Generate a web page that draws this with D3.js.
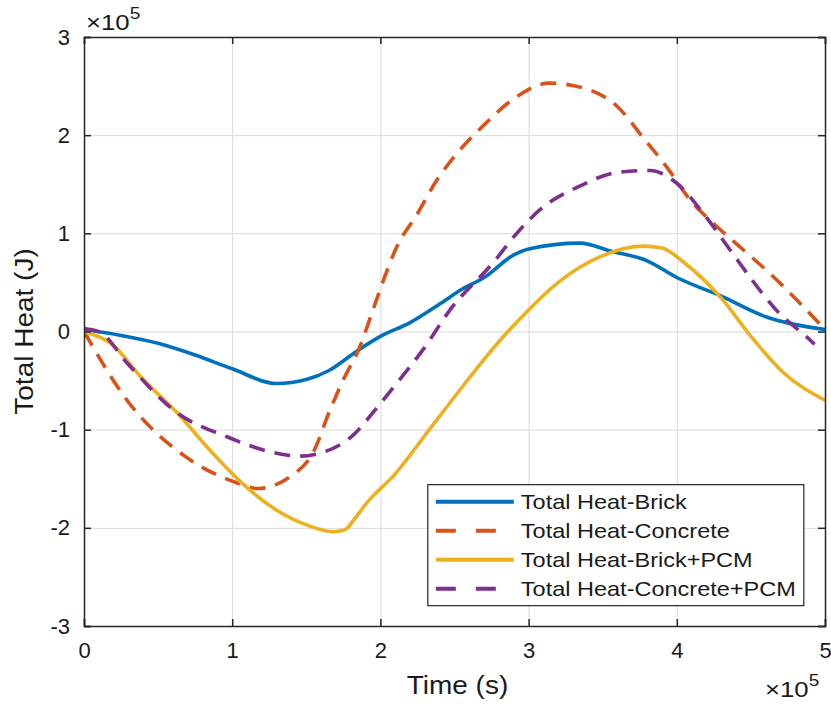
<!DOCTYPE html>
<html>
<head>
<meta charset="utf-8">
<script src="https://d3js.org/d3.v7.min.js"></script>
<style>
  body { margin: 0; background: #fff; }
  .chart text { font-family: "Liberation Sans", Arial, sans-serif; fill: #1a1a1a; }
  .grid line { stroke: #d9d9d9; stroke-width: 1; }
  .grid path { display: none; }
  .axis path, .axis line { stroke: #262626; stroke-width: 1.5; }
</style>
</head>
<body>
<div class="chart"></div>
<script>
// values in units of 1e5 (time) and 1e5 J (heat)
var brickT = [0, 0.25, 0.5, 0.75, 1.0, 1.3, 1.5, 1.65, 1.85, 2.0, 2.2, 2.4, 2.55, 2.7, 2.9, 3.0, 3.35, 3.55, 3.8, 4.0, 4.3, 4.6, 4.8, 5.0];
var brickQ = [0.02, -0.04, -0.12, -0.24, -0.38, -0.53, -0.49, -0.40, -0.19, -0.05, 0.09, 0.28, 0.43, 0.55, 0.78, 0.84, 0.90, 0.82, 0.72, 0.55, 0.36, 0.15, 0.07, 0.02];

var concT = [0, 0.29, 0.69, 1.03, 1.17, 1.39, 1.55, 1.66, 1.75, 1.86, 1.95, 2.02, 2.11, 2.25, 2.38, 2.52, 2.69, 2.89, 3.14, 3.37, 3.60, 3.77, 3.93, 4.09, 4.27, 4.45, 4.65, 4.81, 5.0];
var concQ = [0, -0.70, -1.28, -1.54, -1.60, -1.48, -1.22, -0.80, -0.49, -0.16, 0.22, 0.52, 0.86, 1.20, 1.54, 1.82, 2.09, 2.36, 2.53, 2.48, 2.29, 1.98, 1.68, 1.34, 1.07, 0.83, 0.56, 0.32, 0.02];

var brickPcmT = [0, 0.18, 0.4, 0.63, 0.85, 1.07, 1.3, 1.52, 1.68, 1.76, 1.82, 1.9, 2.1, 2.33, 2.56, 2.79, 3.0, 3.2, 3.48, 3.77, 3.9, 4.05, 4.3, 4.5, 4.72, 5.0];
var brickPcmQ = [0, -0.12, -0.49, -0.83, -1.21, -1.55, -1.82, -1.98, -2.04, -2.02, -1.92, -1.76, -1.45, -1.0, -0.55, -0.12, 0.22, 0.50, 0.76, 0.87, 0.85, 0.70, 0.34, -0.05, -0.42, -0.70];

var concPcmT = [0, 0.11, 0.29, 0.63, 0.96, 1.3, 1.45, 1.59, 1.82, 1.98, 2.13, 2.29, 2.47, 2.76, 2.92, 3.10, 3.33, 3.60, 3.82, 4.0, 4.18, 4.36, 4.51, 4.67, 4.88, 4.93];
var concPcmQ = [0.03, -0.01, -0.32, -0.83, -1.07, -1.24, -1.27, -1.24, -1.05, -0.77, -0.49, -0.18, 0.22, 0.70, 1.0, 1.27, 1.47, 1.62, 1.64, 1.51, 1.20, 0.83, 0.52, 0.22, -0.06, -0.13];

var seriesNames = ["Total Heat-Brick", "Total Heat-Concrete", "Total Heat-Brick+PCM", "Total Heat-Concrete+PCM"];
var xTicks = [0, 1, 2, 3, 4, 5];
var yTicks = [-3, -2, -1, 0, 1, 2, 3];

var series = [
  { name: seriesNames[0], t: brickT, q: brickQ, color: "#0072BD", dash: null },
  { name: seriesNames[1], t: concT, q: concQ, color: "#D95319", dash: "16,10" },
  { name: seriesNames[2], t: brickPcmT, q: brickPcmQ, color: "#EDB120", dash: null },
  { name: seriesNames[3], t: concPcmT, q: concPcmQ, color: "#7E2F8E", dash: "16,10" }
];

var margin = { top: 37, right: 6, bottom: 78, left: 84 },
  width = 831 - margin.left - margin.right,
  height = 704 - margin.top - margin.bottom;

// the original figure text is a bit wider than plain Arial
var stretch = 1.12;

var svg = d3.select('.chart').append('svg')
  .attr("width", 831)
  .attr("height", 704);

var g = svg.append('g')
  .attr("transform", "translate(" + margin.left + "," + margin.top + ")");

var x = d3.scaleLinear().domain([0, 5]).range([0, width]);
var y = d3.scaleLinear().domain([-3, 3]).range([height, 0]);

// grid
g.append("g")
  .attr("class", "grid")
  .attr("transform", "translate(0," + height + ")")
  .call(d3.axisBottom(x).tickValues(xTicks).tickSize(-height).tickFormat(""));
g.append("g")
  .attr("class", "grid")
  .call(d3.axisLeft(y).tickValues(yTicks).tickSize(-width).tickFormat(""));

// lines
svg.append("defs").append("clipPath").attr("id", "clip")
  .append("rect").attr("width", width).attr("height", height);

var line = d3.line()
  .x(function (d) { return x(d[0]); })
  .y(function (d) { return y(d[1]); })
  .curve(d3.curveMonotoneX);

g.append("g").attr("clip-path", "url(#clip)")
  .selectAll(".series")
  .data(series)
  .enter().append("path")
  .attr("class", "series")
  .attr("fill", "none")
  .attr("stroke", function (d) { return d.color; })
  .attr("stroke-width", 3.6)
  .attr("stroke-dasharray", function (d) { return d.dash; })
  .attr("d", function (d) {
    return line(d.t.map(function (t, i) { return [t, d.q[i]]; }));
  });

// axes (box with inward ticks)
var xAxis = g.append("g")
  .attr("class", "axis")
  .attr("transform", "translate(0," + height + ")")
  .call(d3.axisBottom(x).tickValues(xTicks).tickSize(-7).tickPadding(16).tickFormat(d3.format("d")));
var yAxis = g.append("g")
  .attr("class", "axis")
  .call(d3.axisLeft(y).tickValues(yTicks).tickSize(-7).tickPadding(14).tickFormat(d3.format("d")));
g.append("g")
  .attr("class", "axis")
  .call(d3.axisTop(x).tickValues(xTicks).tickSize(-7).tickFormat(""));
g.append("g")
  .attr("class", "axis")
  .attr("transform", "translate(" + width + ",0)")
  .call(d3.axisRight(y).tickValues(yTicks).tickSize(-7).tickFormat(""));

g.selectAll(".axis text")
  .style("font-size", "22px")
  .style("font-family", '"Liberation Sans", Arial, sans-serif')
  .attr("fill", "#1a1a1a");
yAxis.selectAll("text").text(function (d) { return d < 0 ? "-" + Math.abs(d) : d; });

// axis labels
svg.append("text")
  .attr("transform", "translate(" + (margin.left + x(2.52)) + ",694)scale(" + stretch + ",1)")
  .attr("text-anchor", "middle")
  .style("font-size", "25px")
  .text("Time (s)");

svg.append("text")
  .attr("transform", "translate(33," + (margin.top + y(0)) + ")rotate(-90)scale(" + stretch + ",1)")
  .attr("text-anchor", "middle")
  .style("font-size", "25px")
  .text("Total Heat (J)");

// exponent labels
function exponent(xPos, yPos) {
  var t = svg.append("text")
    .attr("transform", "translate(" + xPos + "," + yPos + ")scale(" + stretch + ",1)")
    .style("font-size", "23px");
  t.append("tspan").text("\u00d710");
  t.append("tspan").attr("dy", -11).style("font-size", "17px").text("5");
}
exponent(86, 30);
exponent(765, 697);

// legend
var legend = g.append("g")
  .attr("transform", "translate(" + (x(2.32)) + "," + (y(-1.56)) + ")");

legend.append("rect")
  .attr("width", 376)
  .attr("height", 121)
  .attr("fill", "#fff")
  .attr("stroke", "#262626")
  .attr("stroke-width", 1.2);

var item = legend.selectAll(".item")
  .data(series)
  .enter().append("g")
  .attr("class", "item")
  .attr("transform", function (d, i) { return "translate(0," + (17 + i * 29) + ")"; });

item.append("line")
  .attr("x1", 8).attr("x2", 86)
  .attr("stroke", function (d) { return d.color; })
  .attr("stroke-width", 4)
  .attr("stroke-dasharray", function (d) { return d.dash ? "20,20" : null; });

item.append("text")
  .attr("transform", "translate(93,0)scale(" + stretch + ",1)")
  .attr("dy", "0.36em")
  .style("font-size", "21px")
  .text(function (d) { return d.name; });
</script>
</body>
</html>
